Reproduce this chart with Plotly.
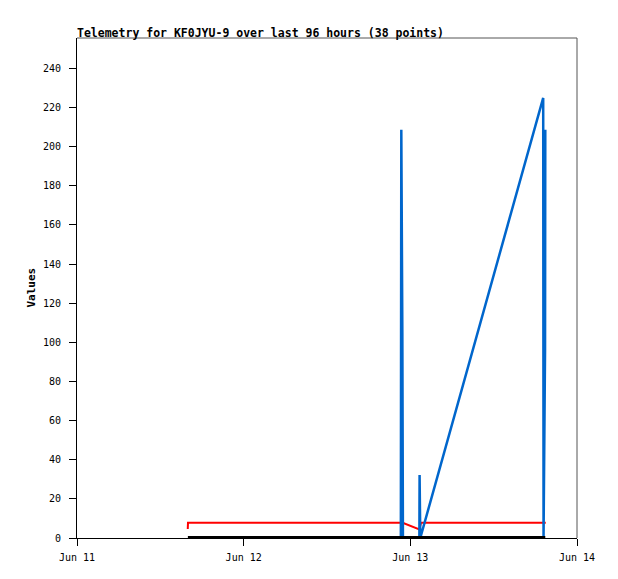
import plotly.graph_objects as go

# Series data
blue_times = ["2024-06-12 22:38", "2024-06-12 22:42", "2024-06-12 22:51", "2024-06-12 22:56",
              "2024-06-13 01:18", "2024-06-13 01:20", "2024-06-13 01:26",
              "2024-06-13 19:08", "2024-06-13 19:11", "2024-06-13 19:24", "2024-06-13 19:26"]
blue_values = [0, 208.6, 104.3, 0,
               0, 32.2, 0,
               224.9, 0, 96.7, 208.6]

red_times = ["2024-06-11 15:57", "2024-06-11 15:59", "2024-06-12 22:54",
             "2024-06-13 01:18", "2024-06-13 01:32", "2024-06-13 19:30"]
red_values = [4.6, 7.8, 7.8, 4.4, 7.8, 7.8]

black_times = ["2024-06-11 15:58", "2024-06-13 19:26"]
black_values = [0, 0]

x_tick_vals = ["2024-06-11", "2024-06-12", "2024-06-13", "2024-06-14"]
x_tick_text = ["Jun 11", "Jun 12", "Jun 13", "Jun 14"]
y_tick_vals = list(range(0, 241, 20))

title_text = "Telemetry for KF0JYU-9 over last 96 hours (38 points)"

MONO = "DejaVu Sans Mono"

fig = go.Figure()
fig.add_trace(go.Scatter(x=red_times, y=red_values, mode="lines",
                         line=dict(color="#ff0000", width=2), showlegend=False))
fig.add_trace(go.Scatter(x=blue_times, y=blue_values, mode="lines",
                         line=dict(color="#0066cc", width=2.5), showlegend=False))
fig.add_trace(go.Scatter(x=black_times, y=black_values, mode="lines",
                         line=dict(color="#000000", width=4), showlegend=False))

fig.update_layout(
    width=618, height=579,
    margin=dict(l=77, r=41, t=38, b=41),
    paper_bgcolor="white", plot_bgcolor="white",
    font=dict(family=MONO, size=10, color="black"),
    title=dict(text="<b>" + title_text + "</b>", x=77/618, xanchor="left",
               y=1 - 33/579, yanchor="middle", yref="container",
               font=dict(family=MONO, size=11.5, color="black")),
    xaxis=dict(type="date", range=["2024-06-11", "2024-06-14"],
               tickvals=x_tick_vals, ticktext=x_tick_text,
               showgrid=False, zeroline=False, showline=True, linecolor="black", linewidth=1,
               ticks="outside", ticklen=7, tickcolor="black", tickwidth=1,
               tickfont=dict(family=MONO, size=10), ticklabelstandoff=3),
    yaxis=dict(range=[0, 255.5], tickvals=y_tick_vals,
               showgrid=False, zeroline=False, showline=True, linecolor="black", linewidth=1,
               ticks="outside", ticklen=7, tickcolor="black", tickwidth=1,
               tickfont=dict(family=MONO, size=10), ticklabelstandoff=6),
    shapes=[
        dict(type="line", xref="paper", yref="paper", x0=0, x1=1, y0=1, y1=1,
             line=dict(color="#555555", width=1)),
        dict(type="line", xref="paper", yref="paper", x0=1, x1=1, y0=0, y1=1,
             line=dict(color="#555555", width=1)),
    ],
    annotations=[
        dict(text="<b>Values</b>", textangle=-90, xref="paper", yref="paper",
             x=(30.5 - 77) / 500, y=0.5, xanchor="center", yanchor="middle",
             showarrow=False, font=dict(family=MONO, size=11, color="black")),
    ],
)

fig.write_html("out.html", config={"displayModeBar": False},
               post_script="document.body.style.margin='0';document.body.style.overflow='hidden';")
